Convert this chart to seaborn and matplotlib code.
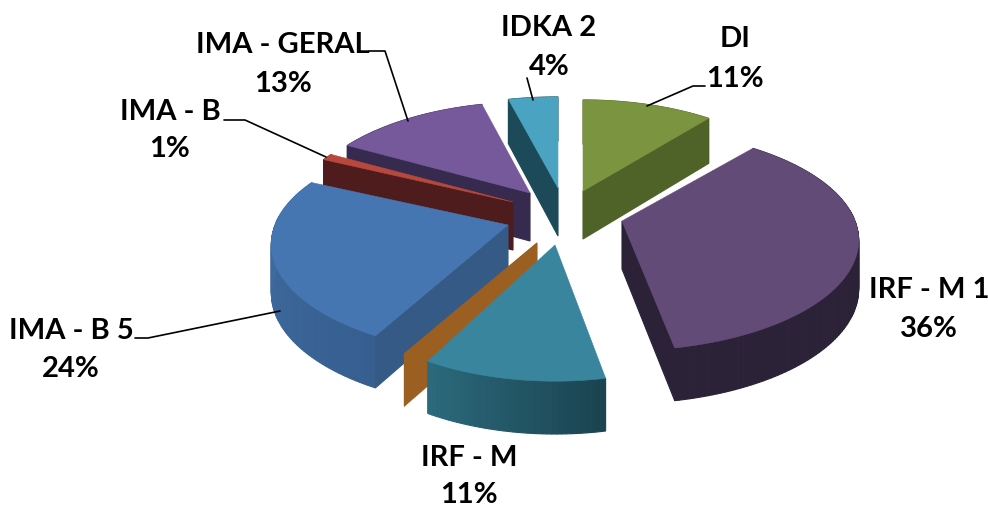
import numpy as np
import matplotlib
matplotlib.use("Agg")
import matplotlib.pyplot as plt
import seaborn as sns

categories = ['DI', 'IRF - M 1', 'IRF - M', 'Outros', 'IMA - B 5', 'IMA - B', 'IMA - GERAL', 'IDKA 2']
shares = [11, 36, 11, 0, 24, 1, 13, 4]

# where each slice point ends up after exploding (pixels)
apex_x = [583, 622, 555, 537, 508, 513, 530, 558]
apex_y = [191, 221, 245, 243, 225, 202, 193, 188]
stretch_x = [0.96, 1, 0.96, 1, 1, 0.965, 0.97, 1]
stretch_y = [1, 1, 1.05, 1, 1, 1, 1, 1]

top_colors = ['#7b9440', '#634b78', '#38859d', '#9c5f22', '#4676b2', '#b9483c', '#76599a', '#4aa3c0']
wall_start = ['#55682c', '#2d2339', '#1b4350', '#9c5f22', '#365f90', '#4e1c1c', '#3c2e55', '#1c4a59']
wall_end = ['#4a5c26', '#2b2238', '#2b6b7d', '#9c5f22', '#4270a5', '#4a1a1a', '#3a2d52', '#1b4a5a']
side_colors = ['#4f6228', '#2b2238', '#1f4f60', '#9c5f22', '#365a86', '#4e1c1c', '#362a4e', '#1c4a59']

draw_order = [7, 0, 6, 5, 1, 4, 3, 2]

RX, RY, PERSP, DEPTH = 233, 107, 0.175, 48


def project(deg):
    rad = np.radians(deg)
    ux, uy = np.sin(rad), np.cos(rad)
    w = 1 + PERSP * uy
    return RX * ux / w, -RY * uy / w, DEPTH / np.sqrt(w)


def draw_slice(ax, i, start, end):
    angles = np.linspace(start, end, max(int(end - start), 2))
    dx, dy, dz = project(angles)
    x = apex_x[i] + dx * stretch_x[i]
    y = apex_y[i] + dy * stretch_y[i]

    # outer wall, split up so the shading runs along the arc
    shades = sns.blend_palette([wall_start[i], wall_end[i]], len(x))
    for k in range(len(x) - 1):
        ax.fill([x[k], x[k + 1], x[k + 1], x[k]],
                [y[k], y[k + 1], y[k + 1] + dz[k + 1], y[k] + dz[k]],
                color=shades[k], lw=0.8)

    # flat walls of the cut, only the ones turned towards the viewer
    visible = []
    if start >= 180:
        visible.append(0)
    if end <= 180:
        visible.append(-1)
    for j in visible:
        ax.fill([apex_x[i], x[j], x[j], apex_x[i]],
                [apex_y[i], y[j], y[j] + dz[j], apex_y[i] + DEPTH],
                color=side_colors[i], lw=0.8)

    ax.fill(np.r_[apex_x[i], x], np.r_[apex_y[i], y], color=top_colors[i], lw=0.4)


sns.set_theme(style='white')
plt.rcParams['font.family'] = ['Lato', 'DejaVu Sans']

fig = plt.figure(figsize=(9.88, 5.07), dpi=100)
ax = fig.add_axes([0, 0, 1, 1])
ax.set_xlim(0, 988)
ax.set_ylim(507, 0)
ax.axis('off')

edges = np.r_[0, np.cumsum(shares)] * 3.6
for i in draw_order:
    draw_slice(ax, i, edges[i], edges[i + 1])

# leader lines
ax.plot([369, 385, 408], [51, 51, 121], color='black', lw=1.2)
ax.plot([533, 527], [100, 78], color='black', lw=1.2)
ax.plot([647, 693, 705], [106, 86, 86], color='black', lw=1.2)
ax.plot([224, 245, 326], [120, 120, 157], color='black', lw=1.2)
ax.plot([135, 148, 280], [338, 338, 311], color='black', lw=1.2)

label_x = [735, 929, 469, None, 71, 170, 283, 549]
name_y = [47, 298, 466, None, 339, 120, 53, 36]
value_y = [87, 337, 503, None, 377, 157, 92, 75]
for i, name in enumerate(categories):
    if label_x[i] is None:
        continue
    ax.text(label_x[i], name_y[i], name, ha='center', va='baseline',
            fontsize=21, fontweight='bold', color='black')
    ax.text(label_x[i], value_y[i], f'{shares[i]}%', ha='center', va='baseline',
            fontsize=21, fontweight='bold', color='black')

fig.savefig('out.png', dpi=100)
